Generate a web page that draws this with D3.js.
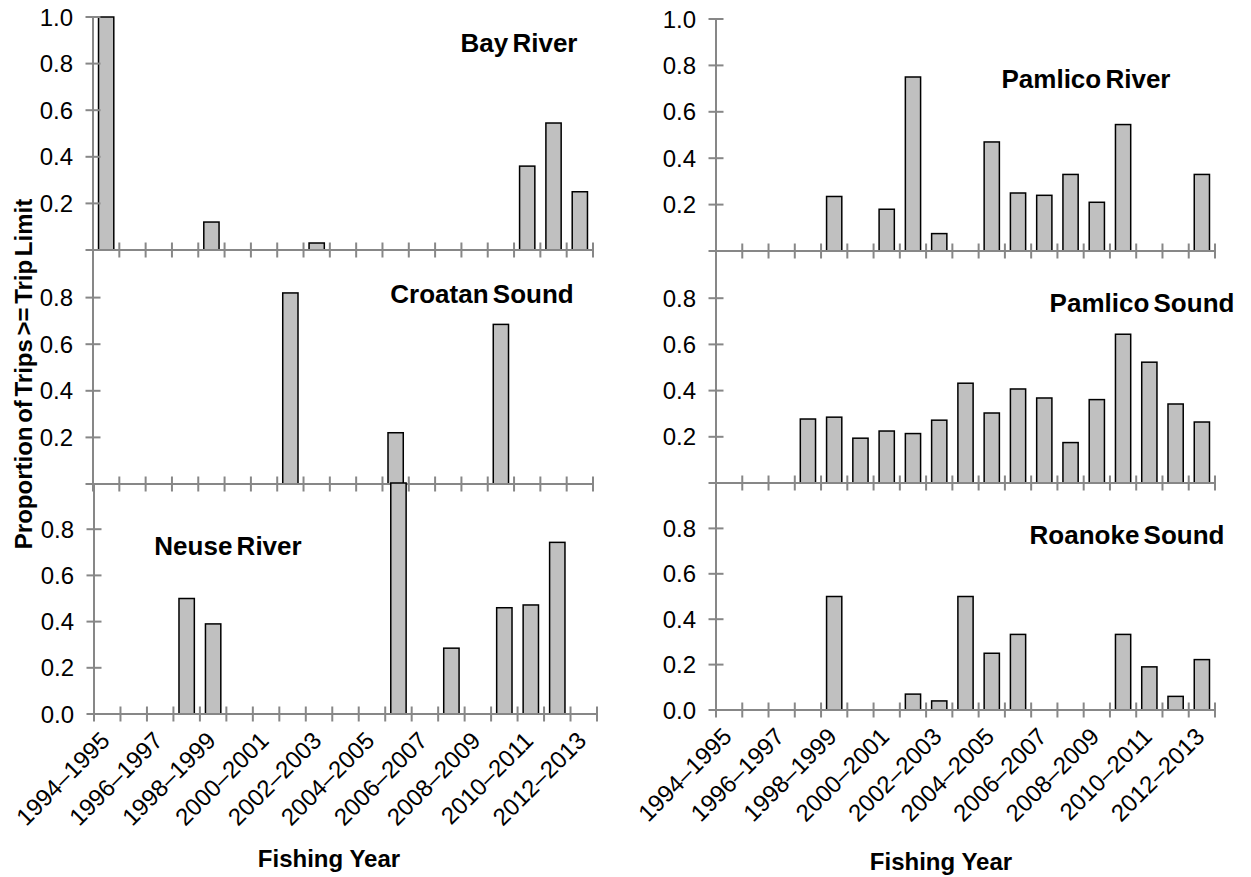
<!DOCTYPE html>
<html><head><meta charset="utf-8">
<script src="https://cdn.jsdelivr.net/npm/d3@7"></script>
<style>
body{margin:0;background:#fff}
svg{display:block}
text{font-family:"Liberation Sans",Arial,Helvetica,sans-serif;fill:#000}
</style>
</head><body>
<svg id="chart" width="1251" height="877"></svg>
<script>
// ---------- data ----------
const seasons = ["1994–1995","1995–1996","1996–1997","1997–1998","1998–1999","1999–2000",
  "2000–2001","2001–2002","2002–2003","2003–2004","2004–2005","2005–2006","2006–2007",
  "2007–2008","2008–2009","2009–2010","2010–2011","2011–2012","2012–2013"];
const labeledSeasons = ["1994–1995","1996–1997","1998–1999","2000–2001","2002–2003",
  "2004–2005","2006–2007","2008–2009","2010–2011","2012–2013"];
const yTickValues = [0, 0.2, 0.4, 0.6, 0.8, 1.0];

const bayRiver     = [1.0,null,null,null,0.12,null,null,null,0.03,null,null,null,null,null,null,null,0.36,0.545,0.25];
const croatanSound = [null,null,null,null,null,null,null,0.82,null,null,null,0.22,null,null,null,0.685,null,null,null];
const neuseRiver   = [null,null,null,0.5,0.39,null,null,null,null,null,null,1.0,null,0.285,null,0.46,0.472,0.743,null];
const pamlicoRiver = [null,null,null,null,0.235,null,0.18,0.75,0.075,null,0.47,0.25,0.24,0.33,0.21,0.545,null,null,0.33];
const pamlicoSound = [null,null,null,0.277,0.285,0.194,0.225,0.214,0.272,0.432,0.303,0.407,0.368,0.175,0.361,0.644,0.523,0.342,0.264];
const roanokeSound = [null,null,null,null,0.5,null,null,0.07,0.04,0.5,0.25,0.333,null,null,null,0.333,0.19,0.06,0.222];

const panelNames = ["Bay River","Croatan Sound","Neuse River","Pamlico River","Pamlico Sound","Roanoke Sound"];
const yAxisTitle = "Proportion of Trips >= Trip Limit";
const xAxisTitle = "Fishing Year";

// ---------- layout ----------
const svg = d3.select("#chart");
const AXIS = "#878787";
const panels = [
  {name:panelNames[0], values:bayRiver,     x0:93,  x1:593,  y0:250, y1:17,  pos:"top",    title:[519,52]},
  {name:panelNames[1], values:croatanSound, x0:93,  x1:593,  y0:484, y1:251, pos:"middle", title:[482,303]},
  {name:panelNames[2], values:neuseRiver,   x0:94,  x1:597,  y0:714, y1:483, pos:"bottom", title:[228,555]},
  {name:panelNames[3], values:pamlicoRiver, x0:716, x1:1215, y0:251, y1:19,  pos:"top",    title:[1086,88]},
  {name:panelNames[4], values:pamlicoSound, x0:716, x1:1215, y0:483, y1:252, pos:"middle", title:[1142,312]},
  {name:panelNames[5], values:roanokeSound, x0:716, x1:1215, y0:710, y1:483, pos:"bottom", title:[1127,544]}
];

panels.forEach(p => {
  const g = svg.append("g");
  const x = d3.scaleBand().domain(seasons).range([p.x0, p.x1]).paddingInner(0.42).paddingOuter(0.21);
  const y = d3.scaleLinear().domain([0, 1]).range([p.y0, p.y1]);
  const step = x.step();

  // bars
  g.selectAll("rect.bar")
    .data(seasons.map((s, i) => ({s, v: p.values[i]})).filter(d => d.v != null))
    .enter().append("rect")
    .attr("x", d => x(d.s))
    .attr("width", x.bandwidth())
    .attr("y", d => y(d.v))
    .attr("height", d => y(0) - y(d.v))
    .attr("fill", "#c0c0c0")
    .attr("stroke", "#000")
    .attr("stroke-width", 1.5);

  // y axis
  const yTop = p.pos === "top" ? y(1) : y(1);
  g.append("line").attr("x1", p.x0).attr("x2", p.x0)
    .attr("y1", yTop).attr("y2", y(0) + (p.pos === "bottom" ? 4 : 0))
    .attr("stroke", AXIS).attr("stroke-width", 2);
  const ticks = p.pos === "top" ? yTickValues : yTickValues.filter(t => t < 1);
  g.selectAll("line.yt").data(ticks).enter().append("line")
    .attr("x1", p.x0 - 7.5).attr("x2", p.x0 + 7.5)
    .attr("y1", d => y(d)).attr("y2", d => y(d))
    .attr("stroke", AXIS).attr("stroke-width", 2);
  const labels = p.pos === "top" ? yTickValues.filter(t => t > 0)
               : p.pos === "middle" ? yTickValues.filter(t => t > 0 && t < 1)
               : yTickValues.filter(t => t < 1);
  g.selectAll("text.yl").data(labels).enter().append("text")
    .attr("x", p.x0 - 20).attr("y", d => y(d)).attr("dy", "0.36em")
    .attr("text-anchor", "end").attr("font-size", 24)
    .text(d => d3.format(".1f")(d));

  // x axis
  g.append("line").attr("x1", p.x0 - 7).attr("x2", p.x1)
    .attr("y1", y(0)).attr("y2", y(0))
    .attr("stroke", AXIS).attr("stroke-width", 2);
  g.selectAll("line.xt").data(d3.range(seasons.length + 1)).enter().append("line")
    .attr("x1", i => p.x0 + i * step).attr("x2", i => p.x0 + i * step)
    .attr("y1", y(0) - 7.5).attr("y2", y(0) + 7.5)
    .attr("stroke", AXIS).attr("stroke-width", 2);

  if (p.pos === "bottom") {
    g.selectAll("text.xl").data(labeledSeasons).enter().append("text")
      .attr("transform", s => `translate(${x(s) + x.bandwidth() / 2 + 4},${y(0) + 28}) rotate(-45)`)
      .attr("text-anchor", "end").attr("font-size", 24)
      .text(s => s);
  }

  // panel title
  g.append("text").attr("x", p.title[0]).attr("y", p.title[1])
    .attr("text-anchor", "middle").attr("font-size", 26).attr("font-weight", "bold")
    .attr("word-spacing", -3)
    .text(p.name);
});

// axis titles
svg.append("text").attr("x", 329).attr("y", 867).attr("text-anchor", "middle")
  .attr("font-size", 24).attr("font-weight", "bold").text(xAxisTitle);
svg.append("text").attr("x", 941).attr("y", 870).attr("text-anchor", "middle")
  .attr("font-size", 24).attr("font-weight", "bold").text(xAxisTitle);
svg.append("text").attr("transform", "translate(32,374) rotate(-90)")
  .attr("text-anchor", "middle").attr("font-size", 24).attr("font-weight", "bold")
  .attr("word-spacing", -3)
  .text(yAxisTitle);
</script>
</body></html>
